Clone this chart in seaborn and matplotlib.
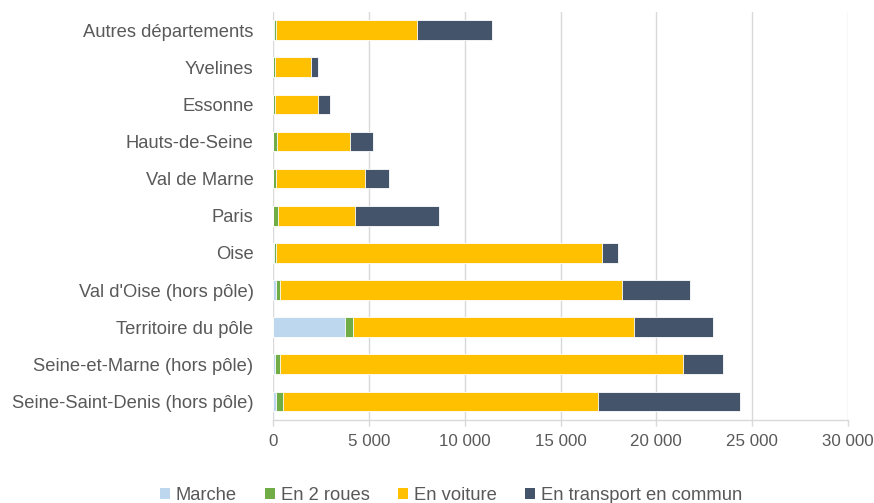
import numpy as np
import pandas as pd
import matplotlib
matplotlib.use("Agg")
import matplotlib.pyplot as plt
from matplotlib import font_manager
from matplotlib.patches import Patch
from matplotlib.ticker import FuncFormatter
import seaborn as sns

categories = [
    "Autres départements",
    "Yvelines",
    "Essonne",
    "Hauts-de-Seine",
    "Val de Marne",
    "Paris",
    "Oise",
    "Val d'Oise (hors pôle)",
    "Territoire du pôle",
    "Seine-et-Marne (hors pôle)",
    "Seine-Saint-Denis (hors pôle)",
]
series_names = ["Marche", "En 2 roues", "En voiture", "En transport en commun"]
marche = [60, 20, 20, 20, 20, 20, 50, 140, 3755, 90, 140]
deux_roues = [90, 90, 100, 190, 140, 260, 90, 210, 435, 260, 400]
voiture = [7380, 1870, 2245, 3790, 4625, 3980, 17040, 17840, 14660, 21050, 16400]
transport = [3910, 385, 625, 1200, 1250, 4400, 820, 3580, 4120, 2090, 7440]
colors = ["#BDD7EE", "#70AD47", "#FFC000", "#44546A"]
xticks = [0, 5000, 10000, 15000, 20000, 25000, 30000]

names = {f.name for f in font_manager.fontManager.ttflist}
if "Liberation Sans Narrow" in names:
    fam = ["Liberation Sans Narrow", "DejaVu Sans"]
    fs = 16
else:
    fam = ["Liberation Sans", "DejaVu Sans"]
    fs = 13.2

sns.set_theme(style="white")
plt.rcParams["font.family"] = fam
text_color = "#595959"

df = pd.DataFrame({
    "cat": categories,
    series_names[0]: marche,
    series_names[1]: deux_roues,
    series_names[2]: voiture,
    series_names[3]: transport,
})
cum = df[series_names].cumsum(axis=1)

fig = plt.figure(figsize=(8.74, 5.03), dpi=100)
ax = fig.add_axes([0.3124, 0.165, 0.9703 - 0.3124, 0.977 - 0.165])

for name, col in reversed(list(zip(series_names, colors))):
    sns.barplot(x=cum[name], y=df["cat"], orient="h", color=col, width=0.53,
                edgecolor="white", linewidth=0.6, ax=ax, saturation=1)

ax.set_xlim(0, 30000)
ax.set_xticks(xticks)
ax.xaxis.set_major_formatter(FuncFormatter(lambda v, p: f"{int(v):,}".replace(",", " ")))
ax.set_xlabel("")
ax.set_ylabel("")
ax.grid(axis="x", color="#d9d9d9", linewidth=1)
ax.set_axisbelow(True)
for s in ["top", "right", "left"]:
    ax.spines[s].set_visible(False)
ax.spines["bottom"].set_color("#d9d9d9")
ax.spines["bottom"].set_linewidth(1)
ax.tick_params(axis="x", colors="#d9d9d9", labelcolor=text_color, labelsize=fs - 1,
               length=4, width=1, direction="out", bottom=True, pad=6)
ax.tick_params(axis="y", labelcolor=text_color, labelsize=fs, length=0, pad=14)

handles = [Patch(facecolor=c, edgecolor="none") for c in colors]
fig.legend(handles, series_names, loc="lower center", bbox_to_anchor=(0.516, -0.035),
           ncol=4, frameon=False, fontsize=fs, labelcolor=text_color,
           handlelength=0.55, handleheight=0.55, handletextpad=0.3, columnspacing=1.55)

fig.savefig("out.png", dpi=100)
